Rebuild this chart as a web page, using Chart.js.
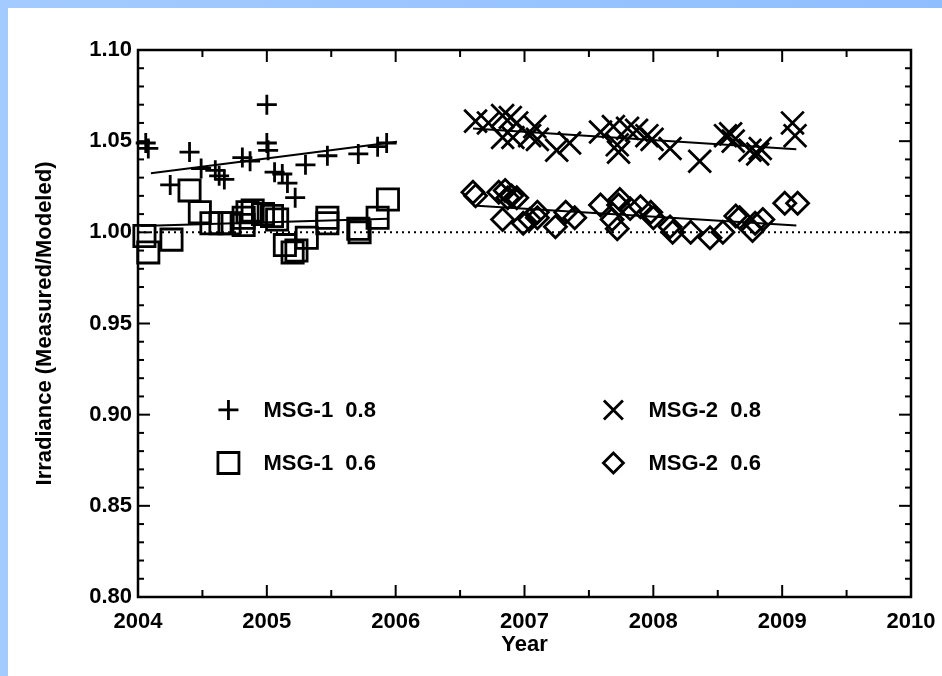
<!DOCTYPE html>
<html>
<head>
<meta charset="utf-8">
<script src="https://cdn.jsdelivr.net/npm/chart.js@4/dist/chart.umd.min.js"></script>
<style>
  html, body { margin: 0; padding: 0; }
  body { width: 942px; height: 676px; background: linear-gradient(90deg, #a3cbff, #8fbeff); position: relative; overflow: hidden; }
  #wrap { position: absolute; left: 8px; top: 8px; width: 934px; height: 668px; background: #fff; }
</style>
</head>
<body>
<div id="wrap"><canvas id="c"></canvas></div>
<script>
// ---- Data ----
const msg1_08_x = [2004.06, 2004.08, 2004.25, 2004.40, 2004.49, 2004.60, 2004.63, 2004.67, 2004.81, 2004.87, 2005.00, 2005.00, 2005.01, 2005.06, 2005.12, 2005.16, 2005.22, 2005.30, 2005.47, 2005.71, 2005.86, 2005.93];
const msg1_08_y = [1.049, 1.046, 1.026, 1.044, 1.035, 1.034, 1.031, 1.029, 1.041, 1.039, 1.070, 1.049, 1.045, 1.033, 1.032, 1.027, 1.019, 1.037, 1.042, 1.043, 1.047, 1.049];

const msg1_06_x = [2004.05, 2004.08, 2004.26, 2004.40, 2004.48, 2004.57, 2004.64, 2004.71, 2004.82, 2004.82, 2004.85, 2004.89, 2004.97, 2005.04, 2005.08, 2005.14, 2005.20, 2005.23, 2005.31, 2005.47, 2005.47, 2005.71, 2005.72, 2005.86, 2005.94];
const msg1_06_y = [0.998, 0.989, 0.996, 1.023, 1.011, 1.005, 1.005, 1.005, 1.008, 1.004, 1.011, 1.012, 1.010, 1.009, 1.007, 0.993, 0.989, 0.990, 0.997, 1.008, 1.005, 1.002, 1.000, 1.008, 1.018];

const msg2_08_x = [2006.62, 2006.72, 2006.83, 2006.89, 2006.94, 2006.83, 2006.91, 2007.08, 2007.04, 2007.10, 2007.25, 2007.35, 2007.59, 2007.69, 2007.72, 2007.73, 2007.80, 2007.87, 2007.95, 2007.99, 2008.13, 2008.36, 2008.56, 2008.60, 2008.62, 2008.75, 2008.81, 2008.83, 2009.08, 2009.10];
const msg2_08_y = [1.061, 1.060, 1.064, 1.063, 1.060, 1.052, 1.052, 1.058, 1.053, 1.051, 1.045, 1.049, 1.055, 1.058, 1.048, 1.044, 1.057, 1.056, 1.053, 1.051, 1.046, 1.039, 1.053, 1.054, 1.050, 1.045, 1.043, 1.046, 1.060, 1.053];

const msg2_06_x = [2006.60, 2006.62, 2006.80, 2006.85, 2006.90, 2006.87, 2006.94, 2006.83, 2006.99, 2007.10, 2007.10, 2007.04, 2007.24, 2007.32, 2007.39, 2007.59, 2007.73, 2007.74, 2007.72, 2007.68, 2007.82, 2007.90, 2007.98, 2008.00, 2008.13, 2008.15, 2008.29, 2008.44, 2008.54, 2008.64, 2008.67, 2008.77, 2008.79, 2008.85, 2009.02, 2009.12];
const msg2_06_y = [1.022, 1.020, 1.022, 1.023, 1.020, 1.019, 1.019, 1.007, 1.005, 1.011, 1.008, 1.007, 1.003, 1.011, 1.008, 1.015, 1.015, 1.018, 1.002, 1.007, 1.013, 1.014, 1.011, 1.008, 1.003, 1.000, 1.000, 0.997, 1.000, 1.009, 1.008, 1.001, 1.005, 1.007, 1.016, 1.016];

// Linear fit lines (end points)
const trend1_08_x = [2004.10, 2006.01];
const trend1_08_y = [1.0324, 1.0497];
const trend1_06_x = [2004.02, 2005.94];
const trend1_06_y = [1.0035, 1.0075];
const trend2_08_x = [2006.60, 2009.11];
const trend2_08_y = [1.0570, 1.0456];
const trend2_06_x = [2006.60, 2009.11];
const trend2_06_y = [1.0147, 1.0037];

// Reference line
const ref_x = [2004, 2010];
const ref_y = [1.00, 1.00];

// Axes
const xMin = 2004, xMax = 2010, xStep = 1, xMinor = 0.5;
const yMin = 0.80, yMax = 1.10, yStep = 0.05, yMinor = 0.01;
const xTitle = 'Year';
const yTitle = 'Irradiance (Measured/Modeled)';

const legendItems = [
  { label: 'MSG-1  0.8', style: 'cross' },
  { label: 'MSG-1  0.6', style: 'rect' },
  { label: 'MSG-2  0.8', style: 'crossRot' },
  { label: 'MSG-2  0.6', style: 'rectRot' }
];

// ---- Build ----
const FONT = '"Liberation Sans", Arial, Helvetica, sans-serif';
const pts = (xs, ys) => xs.map((x, i) => ({ x, y: ys[i] }));

function markerSet(label, xs, ys, style, radius) {
  return {
    label, type: 'scatter', data: pts(xs, ys),
    pointStyle: style, pointRadius: radius, pointHoverRadius: radius,
    borderColor: '#000', backgroundColor: 'rgba(0,0,0,0)', pointBorderWidth: 2.8,
    showLine: false, clip: false
  };
}
function lineSet(label, xs, ys, width, dash) {
  return {
    label, type: 'scatter', data: pts(xs, ys), showLine: true,
    borderColor: '#000', borderWidth: width, borderDash: dash || [],
    pointRadius: 0, pointHoverRadius: 0, fill: false
  };
}

function drawMarker(ctx, style, x, y, s) {
  ctx.beginPath();
  if (style === 'cross') {
    ctx.moveTo(x - s, y); ctx.lineTo(x + s, y);
    ctx.moveTo(x, y - s); ctx.lineTo(x, y + s);
  } else if (style === 'crossRot') {
    ctx.moveTo(x - s, y - s); ctx.lineTo(x + s, y + s);
    ctx.moveTo(x - s, y + s); ctx.lineTo(x + s, y - s);
  } else if (style === 'rect') {
    ctx.rect(x - s, y - s, 2 * s, 2 * s);
  } else if (style === 'rectRot') {
    ctx.moveTo(x, y - s); ctx.lineTo(x + s, y); ctx.lineTo(x, y + s); ctx.lineTo(x - s, y); ctx.closePath();
  }
  ctx.stroke();
}

const framePlugin = {
  id: 'frame',
  afterDraw(chart) {
    const { ctx, chartArea: a, scales: { x, y } } = chart;
    ctx.save();
    ctx.strokeStyle = '#000';
    ctx.lineCap = 'butt';
    ctx.lineWidth = 2;
    const seg = (x1, y1, x2, y2) => { ctx.beginPath(); ctx.moveTo(x1, y1); ctx.lineTo(x2, y2); ctx.stroke(); };
    const nY = Math.round((yMax - yMin) / yMinor);
    const perY = Math.round(yStep / yMinor);
    for (let i = 0; i <= nY; i++) {
      const py = y.getPixelForValue(yMin + i * yMinor);
      const len = i % perY === 0 ? 12 : 6;
      seg(a.left, py, a.left + len, py);
      seg(a.right, py, a.right - len, py);
    }
    const nX = Math.round((xMax - xMin) / xMinor);
    const perX = Math.round(xStep / xMinor);
    for (let i = 0; i <= nX; i++) {
      const px = x.getPixelForValue(xMin + i * xMinor);
      const len = i % perX === 0 ? 12 : 7;
      seg(px, a.bottom, px, a.bottom - len);
      seg(px, a.top, px, a.top + len);
    }
    ctx.lineWidth = 2.5;
    ctx.strokeRect(a.left, a.top, a.right - a.left, a.bottom - a.top);

    // legend
    const w = a.right - a.left, h = a.bottom - a.top;
    const cols = [0.117, 0.615], rows = [0.658, 0.755];
    const sizes = { cross: 10, rect: 10.5, crossRot: 9.5, rectRot: 10 };
    ctx.font = 'bold 22px ' + FONT;
    ctx.fillStyle = '#000';
    ctx.textBaseline = 'middle';
    ctx.textAlign = 'left';
    legendItems.forEach((it, i) => {
      const cx = a.left + w * cols[i < 2 ? 0 : 1];
      const cy = a.top + h * rows[i % 2];
      ctx.lineWidth = 2.8;
      drawMarker(ctx, it.style, cx, cy, sizes[it.style]);
      ctx.fillText(it.label, cx + 35, cy + 1);
    });
    ctx.restore();
  }
};

new Chart(document.getElementById('c'), {
  type: 'scatter',
  data: {
    datasets: [
      lineSet('ref', ref_x, ref_y, 2, [2, 4]),
      lineSet('fit MSG-1 0.8', trend1_08_x, trend1_08_y, 2),
      lineSet('fit MSG-1 0.6', trend1_06_x, trend1_06_y, 2),
      lineSet('fit MSG-2 0.8', trend2_08_x, trend2_08_y, 2),
      lineSet('fit MSG-2 0.6', trend2_06_x, trend2_06_y, 2),
      markerSet('MSG-1 0.8', msg1_08_x, msg1_08_y, 'cross', 10),
      markerSet('MSG-1 0.6', msg1_06_x, msg1_06_y, 'rect', 15),
      markerSet('MSG-2 0.8', msg2_08_x, msg2_08_y, 'crossRot', 16),
      markerSet('MSG-2 0.6', msg2_06_x, msg2_06_y, 'rectRot', 11)
    ]
  },
  options: {
    responsive: true,
    maintainAspectRatio: false,
    animation: false,
    events: [],
    layout: { padding: { top: 42, right: 31, left: 0, bottom: 0 } },
    plugins: { legend: { display: false }, tooltip: { enabled: false } },
    scales: {
      x: {
        type: 'linear', min: xMin, max: xMax,
        grid: { display: false, drawTicks: false },
        border: { display: false },
        ticks: {
          stepSize: xStep, padding: 12, color: '#000',
          font: { family: FONT, size: 22, weight: 'bold' },
          callback: v => String(v)
        },
        title: {
          display: true, text: xTitle, color: '#000',
          font: { family: FONT, size: 22, weight: 'bold' },
          padding: { top: 0, bottom: 18 }
        },
        afterFit: s => { s.height = 79; s.paddingRight = 0; s.paddingLeft = 0; }
      },
      y: {
        type: 'linear', min: yMin, max: yMax,
        grid: { display: false, drawTicks: false },
        border: { display: false },
        ticks: {
          stepSize: yStep, padding: 6, color: '#000',
          font: { family: FONT, size: 22, weight: 'bold' },
          callback: v => Number(v).toFixed(2)
        },
        title: {
          display: true, text: yTitle, color: '#000',
          font: { family: FONT, size: 22, weight: 'bold' },
          padding: { top: 24, bottom: 0 }
        },
        afterFit: s => { s.width = 130; s.paddingTop = 0; s.paddingBottom = 0; }
      }
    }
  },
  plugins: [framePlugin]
});
</script>
</body>
</html>
